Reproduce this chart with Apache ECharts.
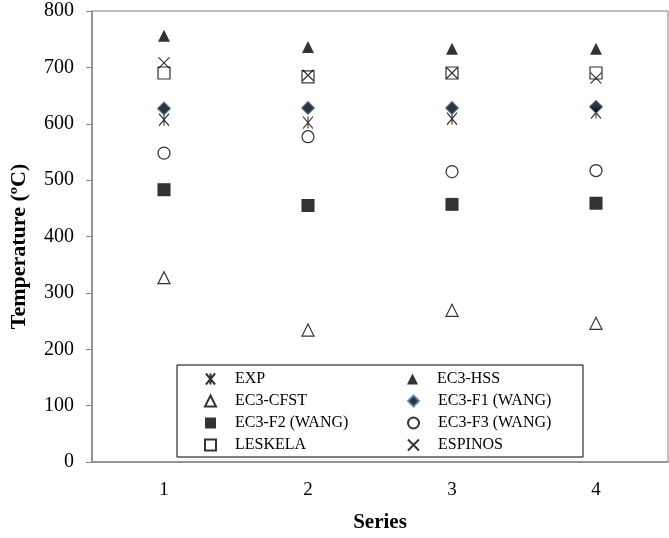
<!DOCTYPE html>
<html>
<head>
<meta charset="utf-8">
<script src="https://cdn.jsdelivr.net/npm/echarts@6/dist/echarts.min.js"></script>
<style>html,body{margin:0;padding:0;background:#fff}#c{width:669px;height:538px}</style>
</head>
<body>
<div id="c"></div>
<script>
const categories = ['1', '2', '3', '4'];
const seriesNames = ['EXP', 'EC3-HSS', 'EC3-CFST', 'EC3-F1 (WANG)', 'EC3-F2 (WANG)', 'EC3-F3 (WANG)', 'LESKELA', 'ESPINOS'];
const expValues = [607, 602, 609, 620];
const hssValues = [756, 736, 733, 733];
const cfstValues = [327, 234, 269, 246];
const f1Values = [627, 628, 628, 630];
const f2Values = [483, 455, 457, 459];
const f3Values = [548, 577, 515, 517];
const leskelaValues = [690, 683, 690, 690];
const espinosValues = [708, 686, 690, 681];
const yTicks = [0, 100, 200, 300, 400, 500, 600, 700, 800];

const FONT = '"Liberation Serif", "Times New Roman", serif';
const asterisk = 'path://M0 0 L10 12 M10 0 L0 12 M5 0 L5 12';
const cross = 'path://M0 0 L10 10 M10 0 L0 10';

const styles = [
  {symbol: asterisk, symbolSize: [10, 12], itemStyle: {color: 'rgba(0,0,0,0)', borderColor: '#000', borderWidth: 1.2}},
  {symbol: 'triangle', symbolSize: 12, itemStyle: {color: '#000'}},
  {symbol: 'triangle', symbolSize: 12, itemStyle: {color: 'rgba(255,255,255,0)', borderColor: '#000', borderWidth: 1.2}},
  {symbol: 'diamond', symbolSize: 13, itemStyle: {color: '#000', borderColor: '#4a7ebb', borderWidth: 1.2}},
  {symbol: 'rect', symbolSize: 13, itemStyle: {color: '#000'}},
  {symbol: 'circle', symbolSize: 12, itemStyle: {color: 'rgba(255,255,255,0)', borderColor: '#000', borderWidth: 1.2}},
  {symbol: 'rect', symbolSize: 12, itemStyle: {color: 'rgba(255,255,255,0)', borderColor: '#000', borderWidth: 1.2}},
  {symbol: cross, symbolSize: 11, itemStyle: {color: 'rgba(0,0,0,0)', borderColor: '#000', borderWidth: 1.2}}
];
const dataArrays = [expValues, hssValues, cfstValues, f1Values, f2Values, f3Values, leskelaValues, espinosValues];

const series = seriesNames.map((n, i) => Object.assign({
  name: n, type: 'scatter', data: dataArrays[i], z: 2 + i
}, styles[i]));

const legendData = seriesNames.map((n, i) => ({
  name: n,
  textStyle: {width: i % 2 === 0 ? 166 : 130, overflow: 'none', padding: [0, 0, 0, 14]}
}));

const chart = echarts.init(document.getElementById('c'), null, {renderer: 'canvas'});
chart.setOption({
  animation: false,
  backgroundColor: '#fff',
  grid: {left: 91, right: 1, top: 11, bottom: 76, show: true, borderColor: '#808080', borderWidth: 1},
  xAxis: {
    type: 'category', data: categories, boundaryGap: true,
    name: 'Series', nameLocation: 'middle', nameGap: 50,
    nameTextStyle: {fontFamily: FONT, fontWeight: 'bold', fontSize: 21, color: '#000'},
    axisLine: {lineStyle: {color: '#868686', width: 1.5}},
    axisTick: {show: false},
    axisLabel: {fontFamily: FONT, fontSize: 19, color: '#000', margin: 19},
    splitLine: {show: false}
  },
  yAxis: {
    type: 'value', min: 0, max: 800, interval: 100,
    name: 'Temperature (ºC)', nameLocation: 'middle', nameGap: 62,
    nameTextStyle: {fontFamily: FONT, fontWeight: 'bold', fontSize: 22, color: '#000', padding: [0, 20, 0, 0]},
    axisLine: {show: true, lineStyle: {color: '#868686', width: 1.5}},
    axisTick: {show: true, inside: false, length: 6, lineStyle: {color: '#868686'}},
    axisLabel: {fontFamily: FONT, fontSize: 20, color: '#000', margin: 18,
      formatter: v => yTicks.indexOf(v) >= 0 ? String(v) : ''},
    splitLine: {show: false}
  },
  legend: {
    data: legendData,
    orient: 'horizontal',
    left: 177, top: 365,
    width: 440,
    padding: [6, 15, 4, 27],
    itemGap: 6,
    itemWidth: 11, itemHeight: 11,
    borderColor: '#000', borderWidth: 1,
    backgroundColor: '#fff',
    textStyle: {fontFamily: FONT, fontSize: 16, color: '#000', lineHeight: 14},
    selectedMode: false
  },
  series: series
});
</script>
</body>
</html>
